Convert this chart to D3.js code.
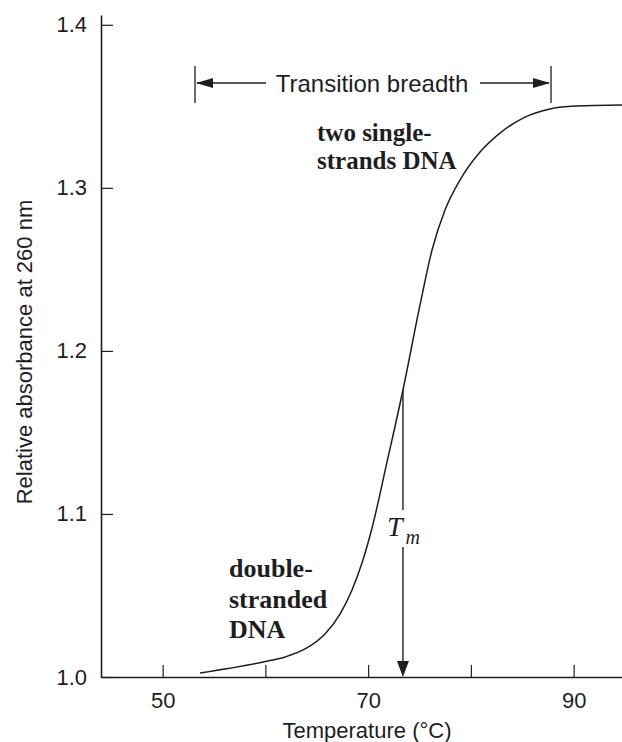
<!DOCTYPE html>
<html>
<head>
<meta charset="utf-8">
<script src="https://cdn.jsdelivr.net/npm/d3@7"></script>
<style>
  html, body { margin: 0; padding: 0; background: #fff; }
  svg { display: block; }
</style>
</head>
<body>
<svg id="chart"></svg>
<script>
// DNA melting curve: relative absorbance at 260 nm vs temperature

const tempC = [53.64, 59.77, 61.91, 63.86, 65.80, 67.26, 68.43, 69.40, 70.38, 71.84, 73.39,
               75.05, 76.22, 77.48, 78.94, 80.89, 82.83, 85.27, 87.70, 90.13, 95.0];
const absorbance = [1.0025, 1.0092, 1.0123, 1.0172, 1.0264, 1.0386, 1.0534, 1.0699, 1.0914, 1.1319, 1.1760,
                    1.2282, 1.2619, 1.2864, 1.3048, 1.3220, 1.3336, 1.3434, 1.3484, 1.3502, 1.3508];

const xTicks = [50, 60, 70, 80, 90];
const xTickLabels = [50, 70, 90];
const yTicks = [1.0, 1.1, 1.2, 1.3, 1.4];

const meltTemp = 73.39;           // T_m
const meltAbs = 1.1760;
const breadth = [53.15, 87.8];    // transition breadth

(function () {
  const W = 622, H = 742;
  const SANS = "Liberation Sans, Arial, Helvetica, sans-serif";
  const SERIF = "Liberation Serif, Times New Roman, serif";
  const INK = "#1e1e1e";

  const svg = d3.select("#chart").attr("width", W).attr("height", H);

  const x = d3.scaleLinear().domain([44, 95]).range([101, 625]);
  const y = d3.scaleLinear().domain([1.0, 1.406]).range([677, 15]);

  // y axis (ticks point inward)
  const yAxis = svg.append("g")
    .attr("transform", `translate(${x(44)},0)`)
    .call(d3.axisLeft(y).tickValues(yTicks).tickFormat(d3.format(".1f"))
      .tickSizeInner(-12).tickSizeOuter(0).tickPadding(14));
  yAxis.select(".domain").attr("stroke", INK).attr("stroke-width", 1.6);
  yAxis.selectAll(".tick line").attr("stroke", INK).attr("stroke-width", 1.2);
  yAxis.selectAll(".tick text")
    .attr("font-family", SANS).attr("font-size", 22).attr("fill", INK);

  // x axis (ticks point inward, only every other labelled)
  const xAxis = svg.append("g")
    .attr("transform", `translate(0,${y(1.0)})`)
    .call(d3.axisBottom(x).tickValues(xTicks)
      .tickFormat(d => xTickLabels.includes(d) ? d : "")
      .tickSizeInner(-12).tickSizeOuter(0).tickPadding(15));
  xAxis.select(".domain").attr("stroke", INK).attr("stroke-width", 1.6);
  xAxis.selectAll(".tick line").attr("stroke", INK).attr("stroke-width", 1.2);
  xAxis.selectAll(".tick text")
    .attr("font-family", SANS).attr("font-size", 22).attr("fill", INK);

  // axis titles
  svg.append("text")
    .attr("x", 367).attr("y", 738)
    .attr("text-anchor", "middle")
    .attr("font-family", SANS).attr("font-size", 22).attr("fill", INK)
    .text("Temperature (°C)");

  svg.append("text")
    .attr("transform", "translate(32,352) rotate(-90)")
    .attr("text-anchor", "middle")
    .attr("font-family", SANS).attr("font-size", 22).attr("fill", INK)
    .text("Relative absorbance at 260 nm");

  // melting curve
  const pts = tempC.map((t, i) => [t, absorbance[i]]);
  svg.append("path")
    .datum(pts)
    .attr("fill", "none")
    .attr("stroke", INK)
    .attr("stroke-width", 1.5)
    .attr("d", d3.line().x(d => x(d[0])).y(d => y(d[1])).curve(d3.curveMonotoneX));

  // T_m arrow, broken around the label
  const tmX = x(meltTemp);
  svg.append("line")
    .attr("x1", tmX).attr("x2", tmX)
    .attr("y1", y(meltAbs)).attr("y2", 510)
    .attr("stroke", INK).attr("stroke-width", 1.4);
  svg.append("line")
    .attr("x1", tmX).attr("x2", tmX)
    .attr("y1", 547).attr("y2", y(1.0) - 12)
    .attr("stroke", INK).attr("stroke-width", 1.4);
  svg.append("path")
    .attr("d", `M ${tmX - 6} ${y(1.0) - 16} L ${tmX + 6} ${y(1.0) - 16} L ${tmX} ${y(1.0)} Z`)
    .attr("fill", INK);

  const tm = svg.append("text")
    .attr("x", tmX - 16).attr("y", 536)
    .attr("font-family", SERIF).attr("font-style", "italic")
    .attr("font-size", 28).attr("fill", INK);
  tm.append("tspan").text("T");
  tm.append("tspan").attr("dx", 3).attr("dy", 8).attr("font-size", 20).text("m");

  // transition breadth bracket
  const bx0 = x(breadth[0]), bx1 = x(breadth[1]), by = 83;
  [bx0, bx1].forEach(bx => {
    svg.append("line")
      .attr("x1", bx).attr("x2", bx).attr("y1", 66).attr("y2", 103)
      .attr("stroke", INK).attr("stroke-width", 1.3);
  });
  svg.append("line")
    .attr("x1", bx0 + 2).attr("x2", 266).attr("y1", by).attr("y2", by)
    .attr("stroke", INK).attr("stroke-width", 1.3);
  svg.append("line")
    .attr("x1", 480).attr("x2", bx1 - 2).attr("y1", by).attr("y2", by)
    .attr("stroke", INK).attr("stroke-width", 1.3);
  svg.append("path")
    .attr("d", `M ${bx0 + 1} ${by} L ${bx0 + 18} ${by - 5} L ${bx0 + 18} ${by + 5} Z`)
    .attr("fill", INK);
  svg.append("path")
    .attr("d", `M ${bx1 - 1} ${by} L ${bx1 - 18} ${by - 5} L ${bx1 - 18} ${by + 5} Z`)
    .attr("fill", INK);
  svg.append("text")
    .attr("x", 372).attr("y", 92)
    .attr("text-anchor", "middle")
    .attr("font-family", SANS).attr("font-size", 24).attr("fill", INK)
    .text("Transition breadth");

  // state labels
  function block(lines, x0, y0, lh, fs) {
    const t = svg.append("text")
      .attr("font-family", SERIF).attr("font-weight", 700)
      .attr("font-size", fs).attr("fill", INK);
    lines.forEach((s, i) => {
      t.append("tspan").attr("x", x0).attr("y", y0 + i * lh).text(s);
    });
  }
  block(["two single-", "strands DNA"], 317, 141, 28, 25);
  block(["double-", "stranded", "DNA"], 229, 577, 30.5, 26);
})();
</script>
</body>
</html>
